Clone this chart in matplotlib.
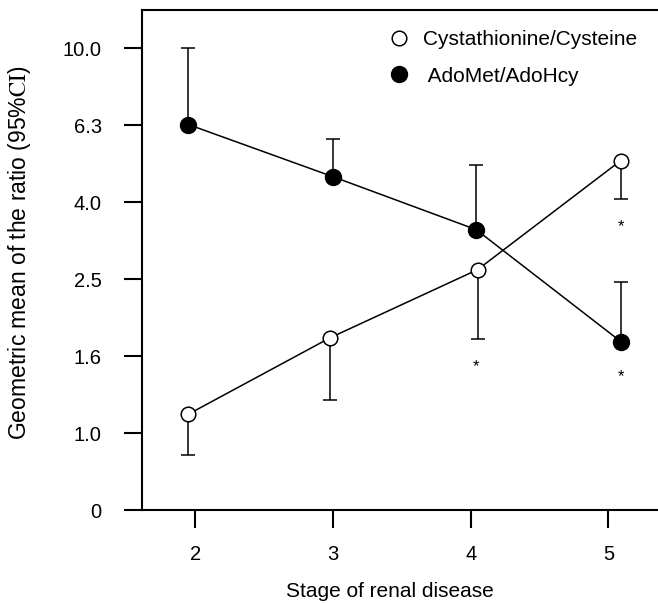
import matplotlib
matplotlib.use("Agg")
import matplotlib.pyplot as plt
import numpy as np

plt.rcParams['font.family'] = ['Liberation Sans', 'DejaVu Sans']
plt.rcParams['mathtext.fontset'] = 'stix'

# Data
stages = [2, 3, 4, 5]
x_fill = [1.95, 3.0, 4.04, 5.09]
x_open = [1.95, 2.98, 4.05, 5.09]
adomet = [6.34, 4.64, 3.38, 1.73]
adomet_upper = [10.0, 5.83, 4.99, 2.47]
cyst = [1.12, 1.77, 2.66, 5.11]
cyst_lower = [0.88, 1.22, 1.76, 4.07]
ytick_vals = [10**-0.2, 1.0, 10**0.2, 10**0.4, 10**0.6, 10**0.8, 10.0]
ytick_labels = ['0', '1.0', '1.6', '2.5', '4.0', '6.3', '10.0']
star_points = [(4.04, 1.49), (5.09, 1.40), (5.09, 3.45)]

fig = plt.figure(figsize=(6.58, 6.03), dpi=100)
ax = fig.add_axes([0.216, 0.154, 0.784, 0.829])
ax.set_yscale('log')

# error bars (one-sided)
fill_err = [np.zeros(4), np.array(adomet_upper) - np.array(adomet)]
open_err = [np.array(cyst) - np.array(cyst_lower), np.zeros(4)]
ax.errorbar(x_fill, adomet, yerr=fill_err, fmt='none', ecolor='black',
            elinewidth=1.1, capsize=5, capthick=1.1, zorder=2)
ax.errorbar(x_open, cyst, yerr=open_err, fmt='none', ecolor='black',
            elinewidth=1.1, capsize=5, capthick=1.1, zorder=2)

ax.plot(x_open, cyst, '-o', color='black', lw=1.1, markersize=10.5,
        markerfacecolor='white', markeredgecolor='black', markeredgewidth=1.1,
        zorder=3, label='Cystathionine/Cysteine')
ax.plot(x_fill, adomet, '-o', color='black', lw=1.1, markersize=11.5,
        markerfacecolor='black', markeredgecolor='black', zorder=3,
        label=' AdoMet/AdoHcy')

for sx, sy in star_points:
    ax.text(sx, sy, '*', ha='center', va='center', fontsize=12)

ax.set_xlim(1.615, 5.36)
ax.set_ylim(10**-0.2, 10**1.099)
ax.set_yticks(ytick_vals)
ax.set_yticklabels(ytick_labels)
ax.yaxis.set_minor_locator(matplotlib.ticker.NullLocator())
ax.set_xticks(stages)
ax.set_xticklabels([str(s) for s in stages])

for s in ['left', 'bottom', 'top']:
    ax.spines[s].set_linewidth(1.5)
ax.spines['right'].set_visible(False)
ax.tick_params(axis='both', direction='out', length=13, width=1.5,
               labelsize=14.5)
ax.tick_params(axis='y', pad=16)
ax.tick_params(axis='x', pad=12)

ax.set_xlabel('Stage of renal disease', fontsize=15)
ax.xaxis.set_label_coords(0.48, -0.144)
ax.set_ylabel('Geometric mean of the ratio (95%$\\mathrm{CI}$)', fontsize=16.5)
ax.yaxis.set_label_coords(-0.211, 0.514)

leg = ax.legend(loc='upper left', bbox_to_anchor=(0.445, 0.998), frameon=False,
                fontsize=15, handlelength=0.8, handletextpad=0.75,
                labelspacing=0.84)
for h in leg.legend_handles:
    h.set_linestyle('none')

fig.savefig('out.png', dpi=100)
